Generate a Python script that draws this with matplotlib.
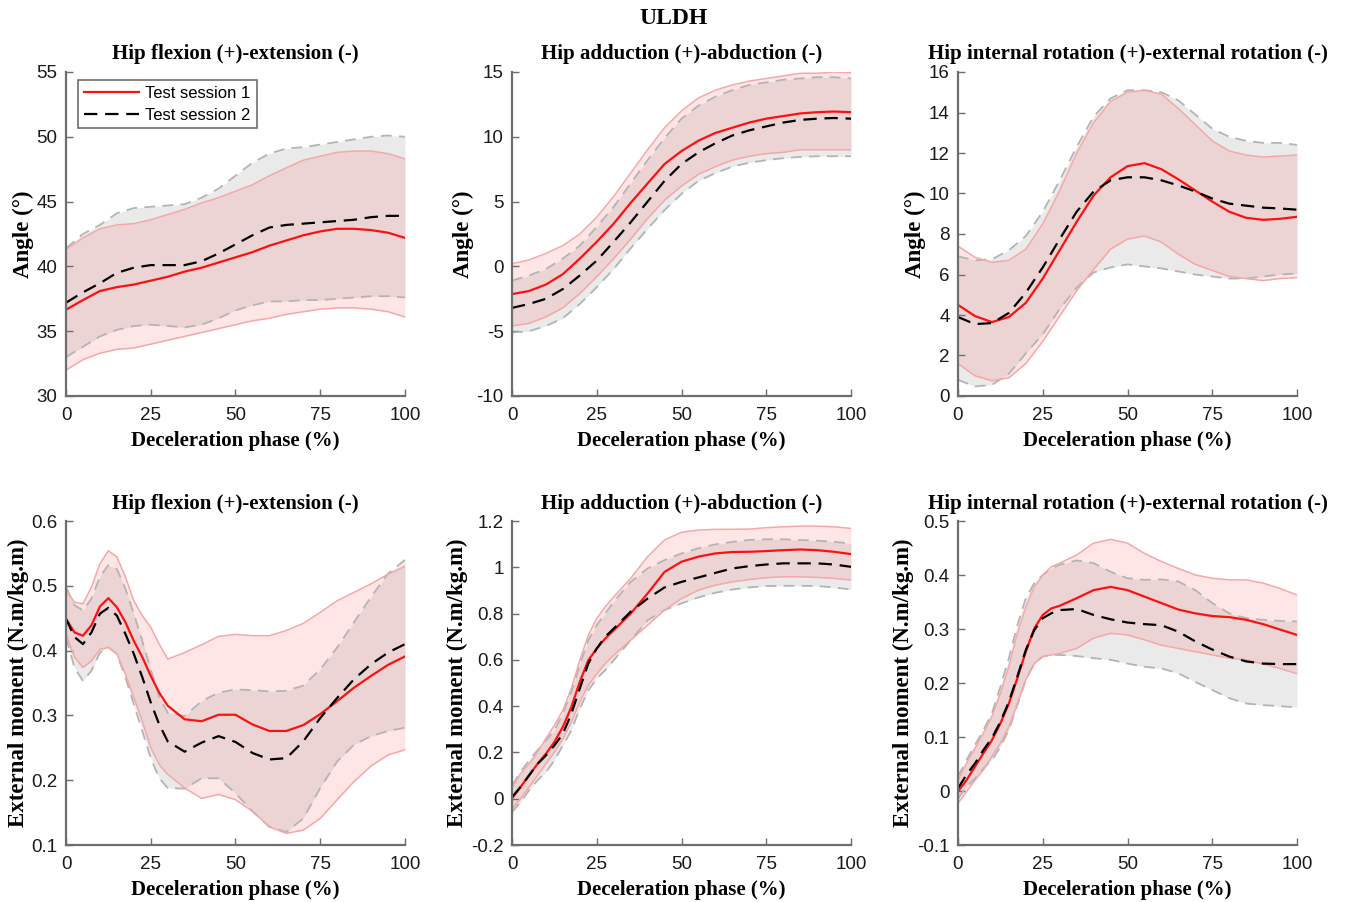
import numpy as np
import matplotlib
matplotlib.use('Agg')
import matplotlib.pyplot as plt
from matplotlib.ticker import FuncFormatter

# x grids (deceleration phase, %)
x_top = [0, 5, 10, 15, 20, 25, 30, 35, 40, 45, 50, 55, 60, 65, 70, 75, 80, 85, 90, 95, 100]
x_bot = [0, 2.5, 5, 7.5, 10, 12.5, 15, 17.5, 20, 22.5, 25, 27.5, 30,
         35, 40, 45, 50, 55, 60, 65, 70, 75, 80, 85, 90, 95, 100]

# --- hip flexion angle
flex_s1 = [36.66, 37.4, 38.1, 38.4, 38.6, 38.9, 39.2, 39.6, 39.9, 40.3, 40.7, 41.1, 41.6, 42.0, 42.4, 42.7, 42.9, 42.9, 42.8, 42.6, 42.2]
flex_s1_up = [41.3, 42.2, 42.9, 43.2, 43.3, 43.6, 44.0, 44.4, 44.9, 45.3, 45.8, 46.3, 47.0, 47.6, 48.2, 48.5, 48.8, 48.9, 48.9, 48.7, 48.3]
flex_s1_lo = [32.0, 32.8, 33.3, 33.6, 33.7, 34.0, 34.3, 34.6, 34.9, 35.2, 35.5, 35.8, 36.0, 36.3, 36.5, 36.7, 36.8, 36.8, 36.7, 36.5, 36.1]
flex_s2 = [37.2, 38.0, 38.7, 39.5, 39.9, 40.1, 40.1, 40.1, 40.4, 41.0, 41.7, 42.4, 43.0, 43.2, 43.3, 43.4, 43.5, 43.6, 43.8, 43.9, 43.9]
flex_s2_up = [41.4, 42.5, 43.2, 44.1, 44.5, 44.6, 44.7, 44.8, 45.3, 46.0, 47.0, 48.0, 48.7, 49.1, 49.2, 49.4, 49.6, 49.8, 50.0, 50.1, 50.0]
flex_s2_lo = [33.0, 33.8, 34.6, 35.1, 35.4, 35.5, 35.4, 35.3, 35.5, 36.0, 36.6, 37.0, 37.3, 37.3, 37.4, 37.4, 37.5, 37.6, 37.7, 37.7, 37.6]

# --- hip adduction angle
add_s1 = [-2.14, -1.9, -1.4, -0.6, 0.6, 1.9, 3.3, 4.9, 6.4, 7.9, 8.9, 9.7, 10.3, 10.7, 11.1, 11.4, 11.6, 11.8, 11.9, 11.95, 11.9]
add_s1_up = [0.2, 0.5, 1.0, 1.6, 2.5, 3.8, 5.4, 7.2, 9.0, 10.7, 12.0, 13.0, 13.6, 14.0, 14.3, 14.5, 14.7, 14.9, 14.9, 15.0, 14.95]
add_s1_lo = [-4.6, -4.4, -3.9, -3.2, -2.1, -0.8, 0.6, 2.1, 3.7, 5.1, 6.2, 7.1, 7.7, 8.2, 8.5, 8.7, 8.8, 9.0, 9.0, 9.0, 9.0]
add_s2 = [-3.2, -2.9, -2.5, -1.75, -0.7, 0.45, 1.9, 3.4, 5.0, 6.6, 7.9, 8.8, 9.5, 10.1, 10.5, 10.8, 11.1, 11.3, 11.4, 11.45, 11.4]
add_s2_up = [-1.1, -0.7, -0.2, 0.6, 1.6, 3.05, 4.6, 6.4, 8.2, 9.9, 11.4, 12.4, 13.1, 13.6, 14.0, 14.2, 14.4, 14.5, 14.6, 14.6, 14.5]
add_s2_lo = [-5.1, -5.0, -4.6, -4.0, -2.9, -1.6, -0.2, 1.4, 2.9, 4.35, 5.6, 6.6, 7.2, 7.7, 8.0, 8.2, 8.35, 8.45, 8.5, 8.5, 8.5]

# --- hip internal rotation angle
rot_s1 = [4.5, 3.95, 3.65, 3.9, 4.6, 5.8, 7.2, 8.6, 9.9, 10.8, 11.35, 11.5, 11.2, 10.7, 10.15, 9.6, 9.1, 8.8, 8.7, 8.75, 8.85]
rot_s1_up = [7.4, 6.85, 6.6, 6.7, 7.25, 8.5, 10.15, 12.0, 13.5, 14.55, 15.0, 15.1, 14.9, 14.2, 13.4, 12.6, 12.1, 11.9, 11.8, 11.85, 11.9]
rot_s1_lo = [1.6, 1.0, 0.75, 0.9, 1.6, 2.7, 3.95, 5.2, 6.25, 7.25, 7.75, 7.9, 7.6, 7.0, 6.5, 6.2, 5.9, 5.8, 5.7, 5.8, 5.85]
rot_s2 = [3.9, 3.55, 3.6, 4.1, 5.1, 6.35, 7.75, 9.1, 10.1, 10.65, 10.8, 10.8, 10.65, 10.4, 10.1, 9.75, 9.5, 9.4, 9.3, 9.26, 9.2]
rot_s2_up = [6.9, 6.7, 6.75, 7.2, 7.9, 9.1, 10.65, 12.3, 13.8, 14.7, 15.1, 15.1, 15.0, 14.6, 13.9, 13.2, 12.8, 12.6, 12.5, 12.5, 12.4]
rot_s2_lo = [0.8, 0.47, 0.55, 1.1, 2.1, 3.05, 4.3, 5.35, 6.1, 6.35, 6.5, 6.4, 6.3, 6.15, 6.0, 5.9, 5.8, 5.8, 5.9, 6.0, 6.05]

# --- hip flexion moment
mflex_s1 = [0.449, 0.428, 0.423, 0.439, 0.468, 0.481, 0.467, 0.444, 0.415, 0.390, 0.361, 0.335, 0.315,
            0.294, 0.291, 0.301, 0.301, 0.286, 0.276, 0.276, 0.285, 0.302, 0.322, 0.343, 0.361, 0.378, 0.391]
mflex_s1_up = [0.493, 0.475, 0.472, 0.498, 0.534, 0.554, 0.545, 0.514, 0.477, 0.454, 0.436, 0.410, 0.387,
               0.397, 0.409, 0.422, 0.425, 0.423, 0.423, 0.431, 0.442, 0.459, 0.477, 0.490, 0.503, 0.518, 0.530]
mflex_s1_lo = [0.426, 0.390, 0.374, 0.384, 0.402, 0.405, 0.395, 0.364, 0.328, 0.291, 0.250, 0.224, 0.209,
               0.188, 0.172, 0.178, 0.170, 0.152, 0.128, 0.118, 0.123, 0.141, 0.170, 0.198, 0.222, 0.239, 0.247]
mflex_s2 = [0.449, 0.421, 0.410, 0.428, 0.457, 0.466, 0.454, 0.426, 0.395, 0.359, 0.320, 0.286, 0.260,
            0.244, 0.258, 0.268, 0.259, 0.242, 0.232, 0.234, 0.260, 0.296, 0.327, 0.356, 0.379, 0.397, 0.410]
mflex_s2_up = [0.498, 0.470, 0.462, 0.480, 0.514, 0.532, 0.526, 0.496, 0.457, 0.415, 0.371, 0.328, 0.304,
               0.299, 0.322, 0.335, 0.340, 0.339, 0.337, 0.338, 0.346, 0.371, 0.405, 0.444, 0.483, 0.519, 0.540]
mflex_s2_lo = [0.420, 0.374, 0.353, 0.369, 0.397, 0.405, 0.395, 0.359, 0.317, 0.276, 0.234, 0.203, 0.188,
               0.187, 0.203, 0.203, 0.180, 0.152, 0.128, 0.120, 0.141, 0.188, 0.229, 0.255, 0.268, 0.276, 0.281]

# --- hip adduction moment
madd_s1 = [0.002, 0.05, 0.10, 0.15, 0.194, 0.245, 0.31, 0.396, 0.505, 0.598, 0.649, 0.692, 0.728,
           0.80, 0.887, 0.98, 1.024, 1.046, 1.06, 1.066, 1.067, 1.07, 1.074, 1.077, 1.074, 1.067, 1.057]
madd_s1_up = [0.05, 0.108, 0.15, 0.20, 0.26, 0.317, 0.382, 0.476, 0.598, 0.706, 0.779, 0.829, 0.872,
              0.952, 1.046, 1.118, 1.151, 1.161, 1.164, 1.164, 1.165, 1.171, 1.175, 1.178, 1.178, 1.175, 1.168]
madd_s1_lo = [-0.044, 0.0, 0.05, 0.10, 0.151, 0.201, 0.259, 0.331, 0.418, 0.49, 0.54, 0.584, 0.62,
              0.685, 0.75, 0.815, 0.865, 0.901, 0.923, 0.937, 0.947, 0.955, 0.959, 0.959, 0.956, 0.952, 0.945]
madd_s2 = [0.007, 0.05, 0.10, 0.15, 0.187, 0.23, 0.28, 0.367, 0.476, 0.584, 0.649, 0.70, 0.735,
           0.808, 0.865, 0.913, 0.937, 0.956, 0.976, 0.995, 1.005, 1.012, 1.017, 1.017, 1.017, 1.012, 1.002]
madd_s2_up = [0.057, 0.115, 0.165, 0.209, 0.252, 0.295, 0.367, 0.461, 0.577, 0.685, 0.75, 0.80, 0.851,
              0.937, 0.995, 1.031, 1.06, 1.082, 1.099, 1.11, 1.118, 1.121, 1.121, 1.118, 1.115, 1.11, 1.103]
madd_s2_lo = [-0.058, -0.015, 0.035, 0.079, 0.115, 0.165, 0.23, 0.295, 0.389, 0.468, 0.519, 0.555, 0.598,
              0.685, 0.771, 0.815, 0.844, 0.87, 0.89, 0.904, 0.913, 0.919, 0.92, 0.92, 0.919, 0.913, 0.904]

# --- hip internal rotation moment
mrot_s1 = [-0.001, 0.02, 0.045, 0.07, 0.094, 0.125, 0.162, 0.209, 0.258, 0.301, 0.326, 0.338, 0.343,
           0.357, 0.372, 0.378, 0.372, 0.36, 0.348, 0.336, 0.329, 0.324, 0.322, 0.317, 0.309, 0.299, 0.289]
mrot_s1_up = [0.02, 0.051, 0.079, 0.107, 0.138, 0.181, 0.23, 0.292, 0.341, 0.378, 0.40, 0.415, 0.422,
              0.437, 0.459, 0.466, 0.459, 0.44, 0.425, 0.412, 0.40, 0.394, 0.391, 0.391, 0.385, 0.375, 0.363]
mrot_s1_lo = [-0.023, -0.001, 0.02, 0.039, 0.064, 0.088, 0.119, 0.162, 0.206, 0.236, 0.249, 0.252, 0.255,
              0.264, 0.283, 0.292, 0.289, 0.28, 0.27, 0.264, 0.258, 0.252, 0.246, 0.243, 0.235, 0.227, 0.217]
mrot_s2 = [0.005, 0.03, 0.051, 0.076, 0.098, 0.128, 0.165, 0.212, 0.261, 0.298, 0.32, 0.329, 0.335,
           0.337, 0.326, 0.318, 0.312, 0.309, 0.307, 0.295, 0.277, 0.262, 0.249, 0.24, 0.236, 0.235, 0.235]
mrot_s2_up = [0.027, 0.057, 0.085, 0.113, 0.144, 0.193, 0.246, 0.307, 0.357, 0.385, 0.40, 0.412, 0.419,
              0.427, 0.422, 0.406, 0.394, 0.391, 0.392, 0.388, 0.372, 0.348, 0.329, 0.32, 0.317, 0.315, 0.314]
mrot_s2_lo = [-0.014, 0.008, 0.023, 0.042, 0.057, 0.082, 0.113, 0.159, 0.206, 0.236, 0.249, 0.252, 0.252,
              0.25, 0.246, 0.243, 0.236, 0.23, 0.227, 0.218, 0.202, 0.187, 0.172, 0.162, 0.159, 0.157, 0.155]

titles = ['Hip flexion (+)-extension (-)', 'Hip adduction (+)-abduction (-)',
          'Hip internal rotation (+)-external rotation (-)']
ylims = [(30, 55), (-10, 15), (0, 16), (0.1, 0.6), (-0.2, 1.2), (-0.1, 0.5)]
ysteps = [5, 5, 2, 0.1, 0.2, 0.1]

panels = [
    (x_top, flex_s1, flex_s1_up, flex_s1_lo, flex_s2, flex_s2_up, flex_s2_lo),
    (x_top, add_s1, add_s1_up, add_s1_lo, add_s2, add_s2_up, add_s2_lo),
    (x_top, rot_s1, rot_s1_up, rot_s1_lo, rot_s2, rot_s2_up, rot_s2_lo),
    (x_bot, mflex_s1, mflex_s1_up, mflex_s1_lo, mflex_s2, mflex_s2_up, mflex_s2_lo),
    (x_bot, madd_s1, madd_s1_up, madd_s1_lo, madd_s2, madd_s2_up, madd_s2_lo),
    (x_bot, mrot_s1, mrot_s1_up, mrot_s1_lo, mrot_s2, mrot_s2_up, mrot_s2_lo),
]

serif = 'Liberation Serif'
sans = 'Liberation Sans'
plt.rcParams['font.family'] = sans

fig = plt.figure(figsize=(13.48, 9.02), dpi=100)
lefts = [66, 512, 958]
tops = [72, 521]
w, h = 339, 324

for i, (x, s1, s1u, s1l, s2, s2u, s2l) in enumerate(panels):
    r, c = divmod(i, 3)
    ax = fig.add_axes([lefts[c] / 1348, 1 - (tops[r] + h) / 902, w / 1348, h / 902])
    ax.fill_between(x, s2l, s2u, color='#a0a0a0', alpha=0.22, lw=0)
    ax.fill_between(x, s1l, s1u, color='#ff4040', alpha=0.13, lw=0)
    ax.plot(x, s2u, color='#b4b4b4', lw=1.3, ls=(0, (6, 4)))
    ax.plot(x, s2l, color='#b4b4b4', lw=1.3, ls=(0, (6, 4)))
    ax.plot(x, s1u, color='#f4a8a8', lw=1.1)
    ax.plot(x, s1l, color='#f4a8a8', lw=1.1)
    l1, = ax.plot(x, s1, color='#ff1010', lw=1.6, label='Test session 1')
    l2, = ax.plot(x, s2, color='black', lw=1.6, ls=(0, (6, 3.5)), label='Test session 2')

    ax.set_xlim(0, 100)
    ax.set_ylim(*ylims[i])
    ax.set_xticks([0, 25, 50, 75, 100])
    ax.set_yticks(np.arange(ylims[i][0], ylims[i][1] + 1e-9, ysteps[i]))
    ax.yaxis.set_major_formatter(FuncFormatter(lambda v, p: ('%g' % round(v, 3))))
    for s in ['top', 'right']:
        ax.spines[s].set_visible(False)
    for s in ['left', 'bottom']:
        ax.spines[s].set_color('#6e6e6e')
        ax.spines[s].set_linewidth(1.6)
    ax.tick_params(direction='in', length=5, width=1, colors='#6e6e6e',
                   labelcolor='#1a1a1a', labelsize=13.5)
    ax.tick_params(axis='x', pad=8)
    ax.tick_params(axis='y', pad=6)

    ax.set_title(titles[c], fontfamily=serif, fontweight='bold', fontsize=15, pad=9)
    ax.set_xlabel('Deceleration phase (%)', fontfamily=serif, fontweight='bold', fontsize=15, labelpad=5)
    if r == 0:
        ax.set_ylabel('Angle (°)', fontfamily=serif, fontweight='bold', fontsize=16.5, labelpad=2)
    else:
        ax.set_ylabel('External moment (N.m/kg.m)', fontfamily=serif, fontweight='bold', fontsize=16.5, labelpad=2)

    if i == 0:
        leg = ax.legend(handles=[l1, l2], loc='upper left', bbox_to_anchor=(0.035, 0.975),
                        borderaxespad=0, fontsize=12, frameon=True, fancybox=False,
                        borderpad=0.35, handlelength=3.3, handletextpad=0.4, labelspacing=0.4)
        leg.get_frame().set_edgecolor('#6e6e6e')
        leg.get_frame().set_linewidth(1.2)
        leg.get_frame().set_alpha(1)

fig.text(0.5, 1 - 19 / 902, 'ULDH', ha='center', va='center', fontfamily=serif,
         fontweight='bold', fontsize=17)

fig.savefig('out.png', dpi=100, facecolor='white')
